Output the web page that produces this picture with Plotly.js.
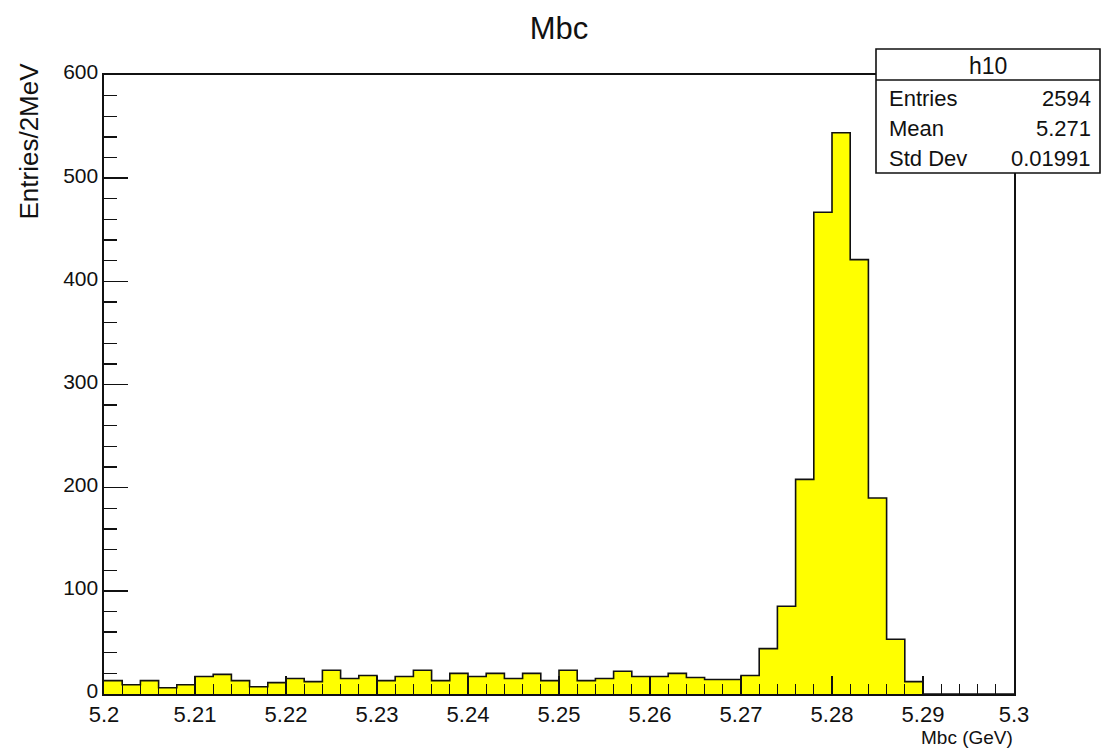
<!DOCTYPE html>
<html>
<head>
<meta charset="utf-8">
<script src="https://cdn.plot.ly/plotly-3.0.1.min.js"></script>
<style>
html, body { margin: 0; padding: 0; background: #ffffff; }
#chart { width: 1102px; height: 755px; }
</style>
</head>
<body>
<div id="chart"></div>
<script>
// ---- data ----
var histName = "h10";
var binLow = 5.2;
var binWidth = 0.002;
var counts = [13, 9, 13, 6, 9, 17, 19, 13, 7, 11,
              15, 12, 23, 15, 18, 13, 17, 23, 13, 20,
              17, 20, 15, 20, 13, 23, 13, 15, 22, 17,
              17, 20, 16, 14, 14, 18, 44, 85, 208, 467,
              544, 421, 190, 53, 12, 0, 0, 0, 0, 0];
var xTickVals = [5.2, 5.21, 5.22, 5.23, 5.24, 5.25, 5.26, 5.27, 5.28, 5.29, 5.3];
var xTickText = ["5.2", "5.21", "5.22", "5.23", "5.24", "5.25", "5.26", "5.27", "5.28", "5.29", "5.3"];
var yTickVals = [0, 100, 200, 300, 400, 500, 600];
var yTickText = ["0", "100", "200", "300", "400", "500", "600"];
var statsLabels = ["Entries", "Mean", "Std Dev"];
var statsValues = ["2594", "5.271", "0.01991"];
var titleText = "Mbc";
var xTitle = "Mbc (GeV)";
var yTitle = "Entries/2MeV";

// bin edges for a step outline
var edges = [];
var stepY = [];
for (var i = 0; i <= counts.length; i++) {
  edges.push(+(binLow + i * binWidth).toFixed(4));
  stepY.push(i < counts.length ? counts[i] : counts[counts.length - 1]);
}

var FONT = "Liberation Sans, Arial, Helvetica, sans-serif";

var trace = {
  type: "scatter",
  mode: "lines",
  x: edges,
  y: stepY,
  line: { shape: "hv", color: "#111111", width: 1.6 },
  fill: "tozeroy",
  fillcolor: "#ffff00",
  hoverinfo: "skip"
};

// paper-coord helpers from pixel positions (plot area 104..1014 x, 75..694 y)
function px(x) { return (x - 104) / 910; }
function py(y) { return (694 - y) / 619; }

var annotations = [
  { text: yTitle, xref: "paper", yref: "paper", x: px(28), y: py(61), xanchor: "center", yanchor: "top",
    textangle: -90, showarrow: false, font: { family: FONT, size: 26, color: "#111" } },
  { text: xTitle, xref: "paper", yref: "paper", x: px(1015), y: py(737), xanchor: "right", yanchor: "middle",
    showarrow: false, font: { family: FONT, size: 19, color: "#111" } },
  { text: histName, xref: "paper", yref: "paper", x: px(988), y: py(66), xanchor: "center", yanchor: "middle",
    showarrow: false, font: { family: FONT, size: 23, color: "#111" } }
];
for (var k = 0; k < statsLabels.length; k++) {
  var yy = py(98 + 30 * k);
  annotations.push({ text: statsLabels[k], xref: "paper", yref: "paper", x: px(887), y: yy,
    xanchor: "left", yanchor: "middle", showarrow: false, font: { family: FONT, size: 22, color: "#111" } });
  annotations.push({ text: statsValues[k], xref: "paper", yref: "paper", x: px(1093), y: yy,
    xanchor: "right", yanchor: "middle", showarrow: false, font: { family: FONT, size: 22, color: "#111" } });
}

var layout = {
  width: 1102,
  height: 755,
  margin: { l: 104, r: 88, t: 75, b: 61 },
  paper_bgcolor: "#ffffff",
  plot_bgcolor: "#ffffff",
  showlegend: false,
  title: { text: titleText, x: 559 / 1102, xanchor: "center", y: 1 - 28 / 755, yanchor: "middle",
           font: { family: FONT, size: 31, color: "#111" } },
  xaxis: {
    range: [5.2, 5.3],
    tickmode: "array", tickvals: xTickVals, ticktext: xTickText,
    ticks: "inside", ticklen: 18, tickwidth: 1.5, tickcolor: "#111",
    minor: { tickmode: "linear", tick0: 5.2, dtick: 0.002, ticks: "inside", ticklen: 10, tickwidth: 1.3, tickcolor: "#111", showgrid: false },
    showline: true, mirror: true, linecolor: "#111", linewidth: 1.6,
    showgrid: false, zeroline: false,
    tickfont: { family: FONT, size: 22, color: "#111" },
    fixedrange: true
  },
  yaxis: {
    range: [0, 600],
    tickmode: "array", tickvals: yTickVals, ticktext: yTickText,
    ticks: "inside", ticklen: 24, tickwidth: 1.5, tickcolor: "#111",
    minor: { tickmode: "linear", tick0: 0, dtick: 20, ticks: "inside", ticklen: 13, tickwidth: 1.3, tickcolor: "#111", showgrid: false },
    showline: true, mirror: true, linecolor: "#111", linewidth: 1.6,
    showgrid: false, zeroline: false,
    ticklabelshift: -3,
    tickfont: { family: FONT, size: 21, color: "#111" },
    fixedrange: true
  },
  shapes: [
    { type: "rect", xref: "paper", yref: "paper", x0: px(876), x1: px(1100), y0: py(173), y1: py(49),
      line: { color: "#111", width: 1.6 }, fillcolor: "#ffffff", layer: "above" },
    { type: "line", xref: "paper", yref: "paper", x0: px(876), x1: px(1100), y0: py(80), y1: py(80),
      line: { color: "#111", width: 1.4 }, layer: "above" }
  ],
  annotations: annotations
};

Plotly.newPlot("chart", [trace], layout, { displayModeBar: false, staticPlot: true });
</script>
</body>
</html>
